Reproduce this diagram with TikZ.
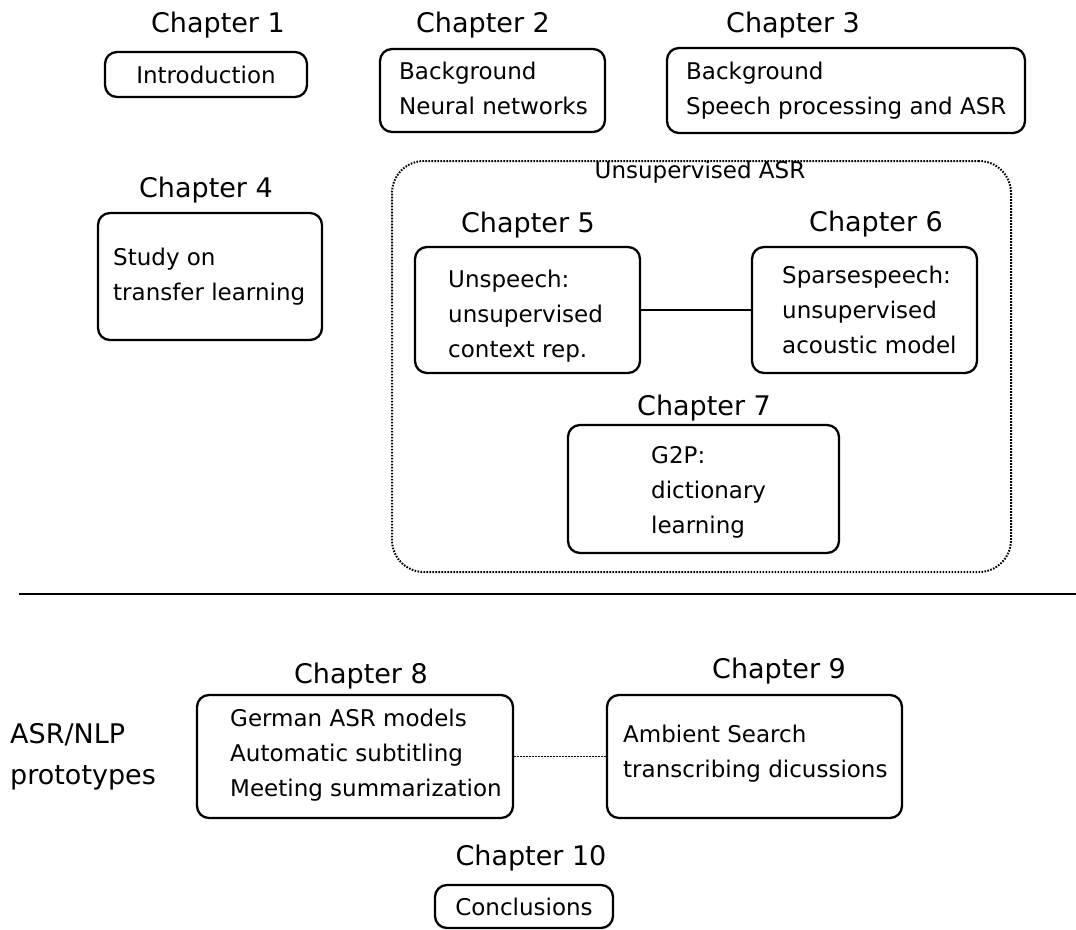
\documentclass[tikz,border=0pt]{standalone}
\usepackage{fontspec}
\setmainfont{DejaVu Sans}
\newcommand{\chapfont}{\fontsize{27}{41}\selectfont}
\newcommand{\bodyfont}{\fontsize{23}{35}\selectfont}
\tikzset{
  chapbox/.style={draw, line width=2.3pt, rounded corners=12pt, inner sep=0pt},
  chaptitle/.style={font=\chapfont, anchor=base, inner sep=0pt},
  boxtext/.style={font=\bodyfont, anchor=north west, align=left, inner sep=0pt},
  grouplabel/.style={font=\bodyfont, anchor=base, inner sep=0pt},
  groupbox/.style={draw, line width=2pt, dash pattern=on 1.6pt off 1.4pt, rounded corners=32pt},
  link/.style={line width=1.8pt},
  looselink/.style={line width=1.6pt, dash pattern=on 1.5pt off 1.5pt},
  rule/.style={line width=2.2pt}
}
\begin{document}
\begin{tikzpicture}[x=1pt, y=-1pt]
\useasboundingbox (0,0) rectangle (1076,929);

% Chapter 1
\node[chaptitle] (t1) at (218,32) {Chapter 1};
\node[chapbox, minimum width=202pt, minimum height=45pt, font=\bodyfont] (b1) at (206,74.5) {Introduction};

% Chapter 2
\node[chaptitle] (t2) at (483,32) {Chapter 2};
\node[chapbox, minimum width=225pt, minimum height=83pt] (b2) at (492.5,90.5) {};
\node[boxtext] (x2) at (399,61.5) {Background\\Neural networks};

% Chapter 3
\node[chaptitle] (t3) at (793,32) {Chapter 3};
\node[chapbox, minimum width=358pt, minimum height=85pt] (b3) at (846,90.5) {};
\node[boxtext] (x3) at (686,61.5) {Background\\Speech processing and ASR};

% Chapter 4
\node[chaptitle] (t4) at (206,197) {Chapter 4};
\node[chapbox, minimum width=224pt, minimum height=127pt] (b4) at (210,276.5) {};
\node[boxtext] (x4) at (113,247.5) {Study on\\transfer learning};

% Unsupervised ASR group
\node[groupbox, minimum width=619pt, minimum height=411pt] (grp) at (701.5,366.5) {};
\node[grouplabel] (glabel) at (700,178) {Unsupervised ASR};

% Chapter 5
\node[chaptitle] (t5) at (528,232) {Chapter 5};
\node[chapbox, minimum width=225pt, minimum height=126pt] (b5) at (527.5,310) {};
\node[boxtext] (x5) at (448,269.5) {Unspeech:\\unsupervised\\context rep.};

% Chapter 6
\node[chaptitle] (t6) at (876,231) {Chapter 6};
\node[chapbox, minimum width=225pt, minimum height=126pt] (b6) at (864.5,310) {};
\node[boxtext] (x6) at (782,265.5) {Sparsespeech:\\unsupervised\\acoustic model};

\draw[link] (b5.east) -- (b6.west);

% Chapter 7
\node[chaptitle] (t7) at (704,415) {Chapter 7};
\node[chapbox, minimum width=271pt, minimum height=128pt] (b7) at (703.5,489) {};
\node[boxtext] (x7) at (651,446) {G2P:\\dictionary\\learning};

% separator
\coordinate (sepL) at (19,594);
\coordinate (sepR) at (1076,594);
\draw[rule] (sepL) -- (sepR);

% ASR/NLP prototypes
\node[font=\chapfont, anchor=north west, align=left, inner sep=0pt] (proto) at (10,723.5) {ASR/NLP\\prototypes};

% Chapter 8
\node[chaptitle] (t8) at (361,683) {Chapter 8};
\node[chapbox, minimum width=316pt, minimum height=123pt] (b8) at (355,756.5) {};
\node[boxtext] (x8) at (230,708.5) {German ASR models\\Automatic subtitling\\Meeting summarization};

% Chapter 9
\node[chaptitle] (t9) at (779,678) {Chapter 9};
\node[chapbox, minimum width=295pt, minimum height=123pt] (b9) at (754.5,756.5) {};
\node[boxtext] (x9) at (623,724.5) {Ambient Search\\transcribing dicussions};

\draw[looselink] (b8.east) -- (b9.west);

% Chapter 10
\node[chaptitle] (t10) at (531,865) {Chapter 10};
\node[chapbox, minimum width=178pt, minimum height=43pt, font=\bodyfont] (b10) at (524,906.5) {Conclusions};

\end{tikzpicture}
\end{document}
